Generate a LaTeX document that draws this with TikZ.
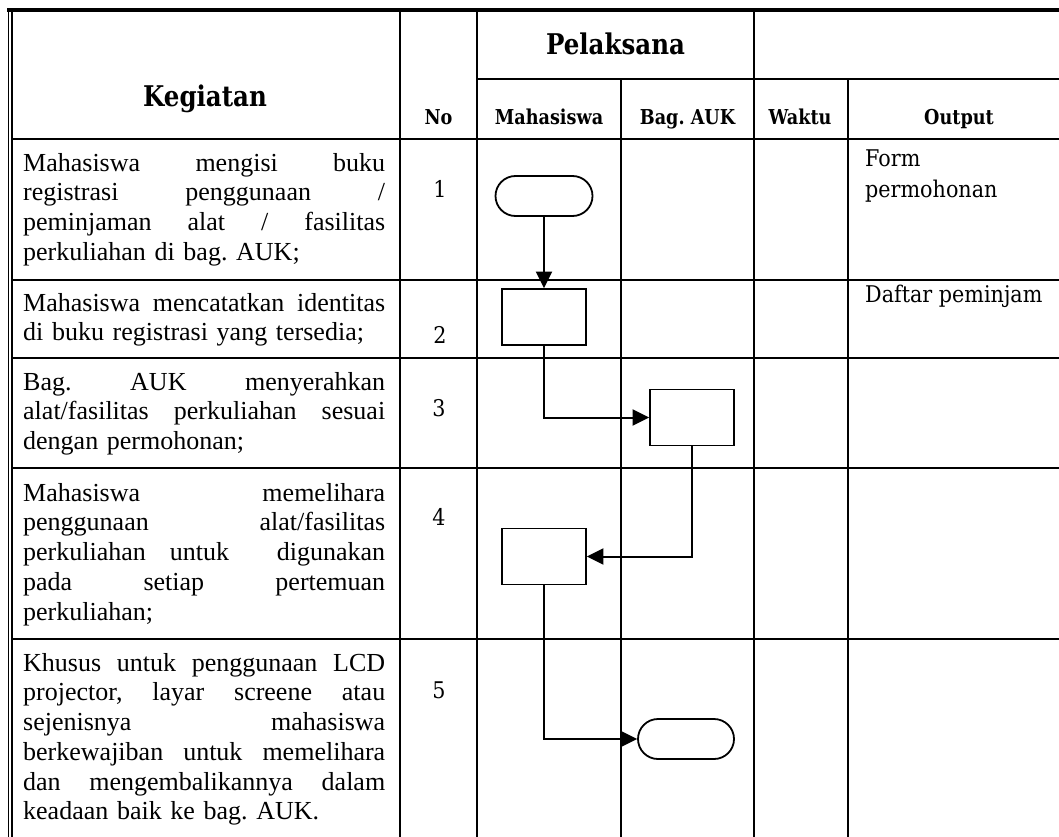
\documentclass[tikz,border=0pt]{standalone}
\usepackage{fontspec}
\setmainfont{Liberation Serif}
\newfontfamily\hdfont[FakeStretch=0.9]{DejaVu Serif}
\newfontfamily\hdbf[FakeStretch=0.86]{DejaVu Serif}
\usetikzlibrary{arrows.meta,calc}
\hbadness=10000
\hfuzz=2pt
% one justified line of the activity column
\newcommand\jl[1]{\leavevmode\hbox to 362pt{\spaceskip=0pt\xspaceskip=0pt\rule{0pt}{20pt}#1}}
\tikzset{
  tbl/.style={line width=2.2pt},
  proc/.style={draw, line width=1.8pt, minimum width=84pt, minimum height=56pt, inner sep=0pt},
  term/.style={draw, rounded corners=20pt, line width=1.8pt, minimum width=97pt, minimum height=40pt, inner sep=0pt},
  flow/.style={line width=2pt, -{Triangle[length=16.5pt,width=16pt]}},
  head/.style={anchor=base, inner sep=0pt, font={\hdbf\bfseries\fontsize{20.5}{22}\selectfont\frenchspacing}},
  bighead/.style={anchor=base, inner sep=0pt, font={\hdbf\bfseries\fontsize{28.5}{30}\selectfont}},
  body/.style={anchor=north west, inner sep=0pt, text width=362pt, align=left,
    font={\fontsize{26}{29.7}\selectfont\parindent=0pt\frenchspacing}},
  num/.style={anchor=base, inner sep=0pt, font={\hdfont\fontsize{23}{25}\selectfont}},
  outp/.style={anchor=north west, inner sep=0pt, align=left,
    font={\hdfont\fontsize{23}{31}\selectfont}},
}
\begin{document}
\begin{tikzpicture}[x=1pt,y=-1pt]
\useasboundingbox (0,0) rectangle (1059,837);

% outer frame: thick top rule, double rule on the left
\draw[line width=3.4pt] (7,10) -- (1059,10);
\draw[line width=1.7pt] (8.6,8.5) -- (8.6,837);
\draw[line width=1.7pt] (12,10) -- (12,837);

% horizontal rules
\draw[tbl] (477,79) -- (1059,79);
\foreach \yy in {139,280,358,468,639}
  \draw[tbl] (12,\yy) -- (1059,\yy);

% vertical rules
\foreach \xx in {400,477,754}
  \draw[tbl] (\xx,10) -- (\xx,837);
\foreach \xx in {621,848}
  \draw[tbl] (\xx,79) -- (\xx,837);

% header texts
\node[bighead] (hKeg) at (205,107) {Kegiatan};
\node[bighead] (hPel) at (615.5,55) {Pelaksana};
\node[head] (hNo) at (438.5,125) {No};
\node[head] (hMhs) at (549,125) {Mahasiswa};
\node[head] (hAuk) at (687.5,125) {Bag. AUK};
\node[head] (hWkt) at (800,125) {Waktu};
\node[head] (hOut) at (959,125) {Output};

% activity descriptions
\node[body] (k1) at (23,151) {\jl{Mahasiswa mengisi buku}\\
  \jl{registrasi penggunaan /}\\
  \jl{peminjaman alat / fasilitas}\\
  perkuliahan di bag. AUK;};
\node[body] (k2) at (23,291) {\jl{Mahasiswa mencatatkan identitas}\\
  di buku registrasi yang tersedia;};
\node[body] (k3) at (23,370) {\jl{Bag. AUK menyerahkan}\\
  \jl{alat/fasilitas perkuliahan sesuai}\\
  dengan permohonan;};
\node[body] (k4) at (23,481) {\jl{Mahasiswa memelihara}\\
  \jl{penggunaan alat/fasilitas}\\
  \jl{perkuliahan untuk\ \ digunakan}\\
  \jl{pada setiap pertemuan}\\
  perkuliahan;};
\node[body] (k5) at (23,651) {\jl{Khusus untuk penggunaan LCD}\\
  \jl{projector, layar screene atau}\\
  \jl{sejenisnya mahasiswa}\\
  \jl{berkewajiban untuk memelihara}\\
  \jl{dan mengembalikannya dalam}\\
  keadaan baik ke bag. AUK.};

% step numbers
\node[num] (n1) at (440,197) {1};
\node[num] (n2) at (440,343) {2};
\node[num] (n3) at (439,416) {3};
\node[num] (n4) at (439,525) {4};
\node[num] (n5) at (439,698) {5};

% outputs
\node[outp] (o1) at (865,148) {\rule{0pt}{18pt}Form\\permohonan};
\node[outp] (o2) at (865,284) {\rule{0pt}{18pt}Daftar peminjam};

% flowchart symbols
\node[term] (t1) at (544,196) {};
\node[proc] (r2) at (544,317) {};
\node[proc] (r3) at (692,417.5) {};
\node[proc] (r4) at (544,556.5) {};
\node[term, minimum width=96pt] (t5) at (686,739) {};

% flow
\draw[flow] (t1.south) -- (r2.north);
\draw[flow] (r2.south) |- (r3.west);
\draw[flow] (r3.south) |- (r4.east);
\draw[flow] (r4.south) |- (t5.west);
\end{tikzpicture}
\end{document}
